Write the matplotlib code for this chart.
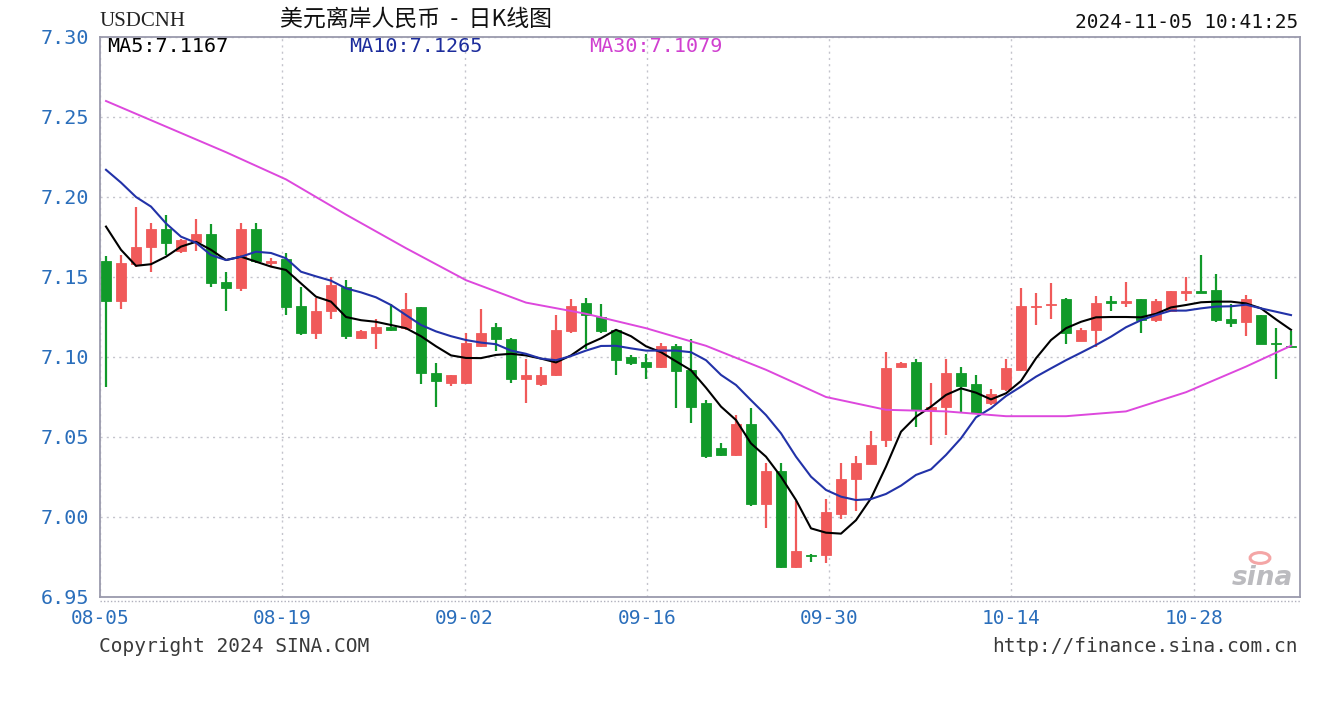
import matplotlib
matplotlib.use("Agg")
import matplotlib.pyplot as plt
import numpy as np
from matplotlib.patches import Circle

# ---------------- data ----------------
tick_labels = ['08-05', '08-19', '09-02', '09-16', '09-30', '10-14', '10-28']
tick_bar_idx = [0, 12, 24, 36, 48, 60, 72]

opens = [7.160, 7.135, 7.158, 7.169, 7.180, 7.166, 7.172, 7.177, 7.147, 7.143,
         7.180, 7.159, 7.161, 7.132, 7.115, 7.129, 7.144, 7.112, 7.115, 7.119,
         7.118, 7.131, 7.090, 7.084, 7.084, 7.107, 7.119, 7.111, 7.086, 7.083,
         7.089, 7.116, 7.134, 7.125, 7.117, 7.100, 7.097, 7.094, 7.107, 7.092,
         7.071, 7.043, 7.039, 7.058, 7.008, 7.029, 6.969, 6.9765, 6.976, 7.002,
         7.024, 7.033, 7.048, 7.094, 7.097, 7.067, 7.069, 7.090, 7.083, 7.071,
         7.080, 7.092, 7.131, 7.133, 7.136, 7.110, 7.117, 7.135, 7.134, 7.136,
         7.123, 7.129, 7.140, 7.141, 7.142, 7.124, 7.122, 7.126, 7.109, 7.107]
highs = [7.163, 7.164, 7.194, 7.184, 7.189, 7.174, 7.186, 7.183, 7.153, 7.184,
         7.184, 7.162, 7.165, 7.144, 7.137, 7.150, 7.148, 7.117, 7.124, 7.133,
         7.140, 7.131, 7.096, 7.089, 7.115, 7.130, 7.121, 7.112, 7.099, 7.094,
         7.126, 7.136, 7.137, 7.133, 7.117, 7.101, 7.102, 7.109, 7.108, 7.111,
         7.073, 7.046, 7.064, 7.068, 7.034, 7.034, 7.010, 6.977, 7.011, 7.034,
         7.038, 7.054, 7.103, 7.097, 7.099, 7.084, 7.099, 7.094, 7.089, 7.080,
         7.099, 7.143, 7.140, 7.146, 7.137, 7.118, 7.138, 7.138, 7.147, 7.136,
         7.136, 7.141, 7.150, 7.164, 7.152, 7.133, 7.139, 7.126, 7.118, 7.116]
lows = [7.081, 7.130, 7.156, 7.153, 7.164, 7.165, 7.166, 7.144, 7.129, 7.141,
        7.159, 7.157, 7.126, 7.114, 7.111, 7.124, 7.111, 7.111, 7.105, 7.116,
        7.117, 7.083, 7.069, 7.082, 7.083, 7.106, 7.104, 7.084, 7.071, 7.082,
        7.088, 7.115, 7.105, 7.115, 7.089, 7.095, 7.086, 7.093, 7.068, 7.059,
        7.037, 7.038, 7.038, 7.007, 6.993, 6.968, 6.968, 6.972, 6.971, 6.999,
        7.004, 7.033, 7.044, 7.093, 7.056, 7.045, 7.051, 7.065, 7.065, 7.070,
        7.079, 7.092, 7.120, 7.124, 7.108, 7.110, 7.106, 7.129, 7.131, 7.115,
        7.122, 7.129, 7.135, 7.140, 7.122, 7.119, 7.113, 7.108, 7.086, 7.106]
closes = [7.135, 7.159, 7.169, 7.180, 7.171, 7.173, 7.177, 7.146, 7.143, 7.180,
          7.160, 7.160, 7.131, 7.115, 7.129, 7.145, 7.113, 7.116, 7.119, 7.117,
          7.130, 7.090, 7.085, 7.089, 7.109, 7.115, 7.111, 7.086, 7.089, 7.089,
          7.117, 7.132, 7.126, 7.116, 7.098, 7.096, 7.094, 7.107, 7.091, 7.069,
          7.038, 7.039, 7.058, 7.008, 7.029, 6.969, 6.979, 6.976, 7.003, 7.024,
          7.034, 7.045, 7.093, 7.096, 7.067, 7.069, 7.090, 7.082, 7.065, 7.077,
          7.093, 7.132, 7.132, 7.1335, 7.115, 7.117, 7.134, 7.134, 7.135, 7.123,
          7.135, 7.141, 7.141, 7.140, 7.123, 7.1215, 7.136, 7.108, 7.108, 7.1065]

ma5 = [7.1815, 7.167, 7.157, 7.158, 7.1627, 7.169, 7.172, 7.167, 7.1606, 7.1627,
       7.1596, 7.1565, 7.1544, 7.146, 7.1377, 7.1346, 7.125, 7.123, 7.122, 7.120,
       7.118, 7.113, 7.1067, 7.101, 7.0994, 7.0993, 7.1013, 7.102, 7.101, 7.099,
       7.0966, 7.101, 7.1075, 7.1117, 7.117, 7.113, 7.1067, 7.103, 7.0973, 7.0917,
       7.0808, 7.069, 7.0606, 7.046, 7.0377, 7.0252, 7.0106, 6.9929, 6.9902, 6.9896,
       6.998, 7.0117, 7.0315, 7.0533, 7.0627, 7.069, 7.0763, 7.0804, 7.0777, 7.0735,
       7.0773, 7.0850, 7.0992, 7.1106, 7.118, 7.122, 7.1248, 7.125, 7.125, 7.1248,
       7.127, 7.131, 7.1325, 7.1342, 7.1346, 7.1346, 7.1335, 7.1304, 7.1235, 7.117]
ma10 = [7.217, 7.209, 7.200, 7.194, 7.1835, 7.1752, 7.1714, 7.1637, 7.1606, 7.1627,
        7.1658, 7.165, 7.1617, 7.1533, 7.1504, 7.1477, 7.1429, 7.1404, 7.1373, 7.1325,
        7.1262, 7.120, 7.116, 7.113, 7.1106, 7.109, 7.108, 7.104, 7.102, 7.099,
        7.098, 7.1006, 7.104, 7.1069, 7.107, 7.1054, 7.104, 7.104, 7.104, 7.103,
        7.098, 7.0888, 7.0825, 7.073, 7.0637, 7.0523, 7.0377, 7.0252, 7.0169, 7.0127,
        7.0106, 7.0112, 7.0144, 7.0196, 7.0263, 7.0298, 7.0388, 7.0492, 7.0623, 7.068,
        7.0756, 7.0815, 7.0877, 7.0929, 7.098, 7.1027, 7.1075, 7.1127, 7.1186, 7.123,
        7.1262, 7.129, 7.129, 7.1304, 7.1315, 7.1317, 7.1327, 7.1304, 7.1283, 7.1262]
ma30_idx = [0, 4, 8, 12, 16, 20, 24, 28, 32, 36, 40, 44, 48, 52, 56, 60, 64, 68, 72, 76, 79]
ma30 = [7.260, 7.244, 7.228, 7.211, 7.189, 7.168, 7.148, 7.134, 7.127, 7.118,
        7.107, 7.092, 7.075, 7.067, 7.066, 7.063, 7.063, 7.066, 7.078, 7.094, 7.107]

ma_labels = ['MA5:7.1167', 'MA10:7.1265', 'MA30:7.1079']

# ---------------- figure ----------------
W, H = 1320, 720
fig = plt.figure(figsize=(W / 100, H / 100), dpi=100)
fig.patch.set_facecolor('white')

def fx(px):
    return px / W

def fy(py):
    return 1 - py / H

ax = fig.add_axes([fx(100), fy(597), 1200 / W, 560 / H])
ax.set_facecolor('white')
ax.set_xlim(-0.4, 79.6)
ax.set_ylim(6.95, 7.30)

RED = '#f05a5a'
GREEN = '#119a2a'

n = len(opens)
idx = np.arange(n)
for i in range(n):
    o, h, l, c = opens[i], highs[i], lows[i], closes[i]
    col = RED if c >= o else GREEN
    ax.vlines(i, l, h, color=col, lw=1.6, zorder=3)
    body = max(abs(c - o), 0.0007)
    ax.bar(i, body, bottom=min(o, c) - (0.00035 if abs(c - o) < 0.0007 else 0),
           width=0.72, color=col, edgecolor=col, lw=0.6, zorder=4)

ax.plot(idx, ma5, color='black', lw=1.5, zorder=5)
ax.plot(idx, ma10, color='#2232a8', lw=1.5, zorder=5)
ax.plot(ma30_idx, ma30, color='#dd48dd', lw=1.4, zorder=5)

# grid
yt = np.round(np.arange(6.95, 7.3001, 0.05), 2)
ax.set_yticks(yt)
ax.set_yticklabels(['%.2f' % v for v in yt])
xt = [-0.4 + k * 80 / 79 for k in tick_bar_idx]
ax.set_xticks(xt)
ax.set_xticklabels(tick_labels)
ax.grid(True, color='#c4c4cc', linestyle=(0, (1.5, 3)), lw=1.0, zorder=0)
ax.tick_params(length=0, labelcolor='#2a6ebb')
ax.tick_params(axis='y', pad=8)
ax.tick_params(axis='x', pad=9)
for lab in ax.get_yticklabels():
    lab.set_fontfamily('DejaVu Sans Mono')
    lab.set_fontsize(14.5)
for lab in ax.get_xticklabels():
    lab.set_fontfamily('DejaVu Sans Mono')
    lab.set_fontsize(14)
for sp in ax.spines.values():
    sp.set_color('#9a9aac')
    sp.set_linewidth(1.3)

# dotted line under bottom axis
fig.add_artist(plt.Line2D([fx(100), fx(1300)], [fy(601), fy(601)],
                          color='#b0b0bc', lw=1, linestyle=(0, (1, 1.5))))

# header texts
fig.text(fx(99), fy(22), 'USDCNH', fontfamily='Liberation Serif', fontsize=15,
         color='#222222', va='center', ha='left')
fig.text(fx(280), fy(19), '美元离岸人民币  -  日K线图',
         fontfamily=['Noto Sans CJK SC', 'DejaVu Sans'], fontsize=16.5,
         color='#111111', va='center', ha='left')
fig.text(fx(1298), fy(22), '2024-11-05 10:41:25', fontfamily='DejaVu Sans Mono',
         fontsize=14, color='#111111', va='center', ha='right')

# MA labels
fig.text(fx(107), fy(46), ma_labels[0], fontfamily='DejaVu Sans Mono', fontsize=14.5,
         color='black', va='center', ha='left')
fig.text(fx(349), fy(46), ma_labels[1], fontfamily='DejaVu Sans Mono', fontsize=14.5,
         color='#1c2c9c', va='center', ha='left')
fig.text(fx(589), fy(46), ma_labels[2], fontfamily='DejaVu Sans Mono', fontsize=14.5,
         color='#d040d0', va='center', ha='left')

# footer
fig.text(fx(99), fy(647), 'Copyright 2024 SINA.COM', fontfamily='DejaVu Sans Mono',
         fontsize=14, color='#3a3a3a', va='center', ha='left')
fig.text(fx(1298), fy(647), 'http://finance.sina.com.cn', fontfamily='DejaVu Sans Mono',
         fontsize=14, color='#3a3a3a', va='center', ha='right')

# sina logo
fig.text(fx(1262), fy(578), 'sina', fontfamily='DejaVu Sans', fontsize=19,
         fontstyle='italic', fontweight='bold', color='#b4b4b8', va='center', ha='center',
         alpha=0.9)
fig.add_artist(Circle((fx(1260), fy(558)), 0.0075, transform=fig.transFigure,
                      fill=False, edgecolor='#f08080', lw=2.2, alpha=0.7))

fig.savefig('out.png', dpi=100, facecolor='white')
